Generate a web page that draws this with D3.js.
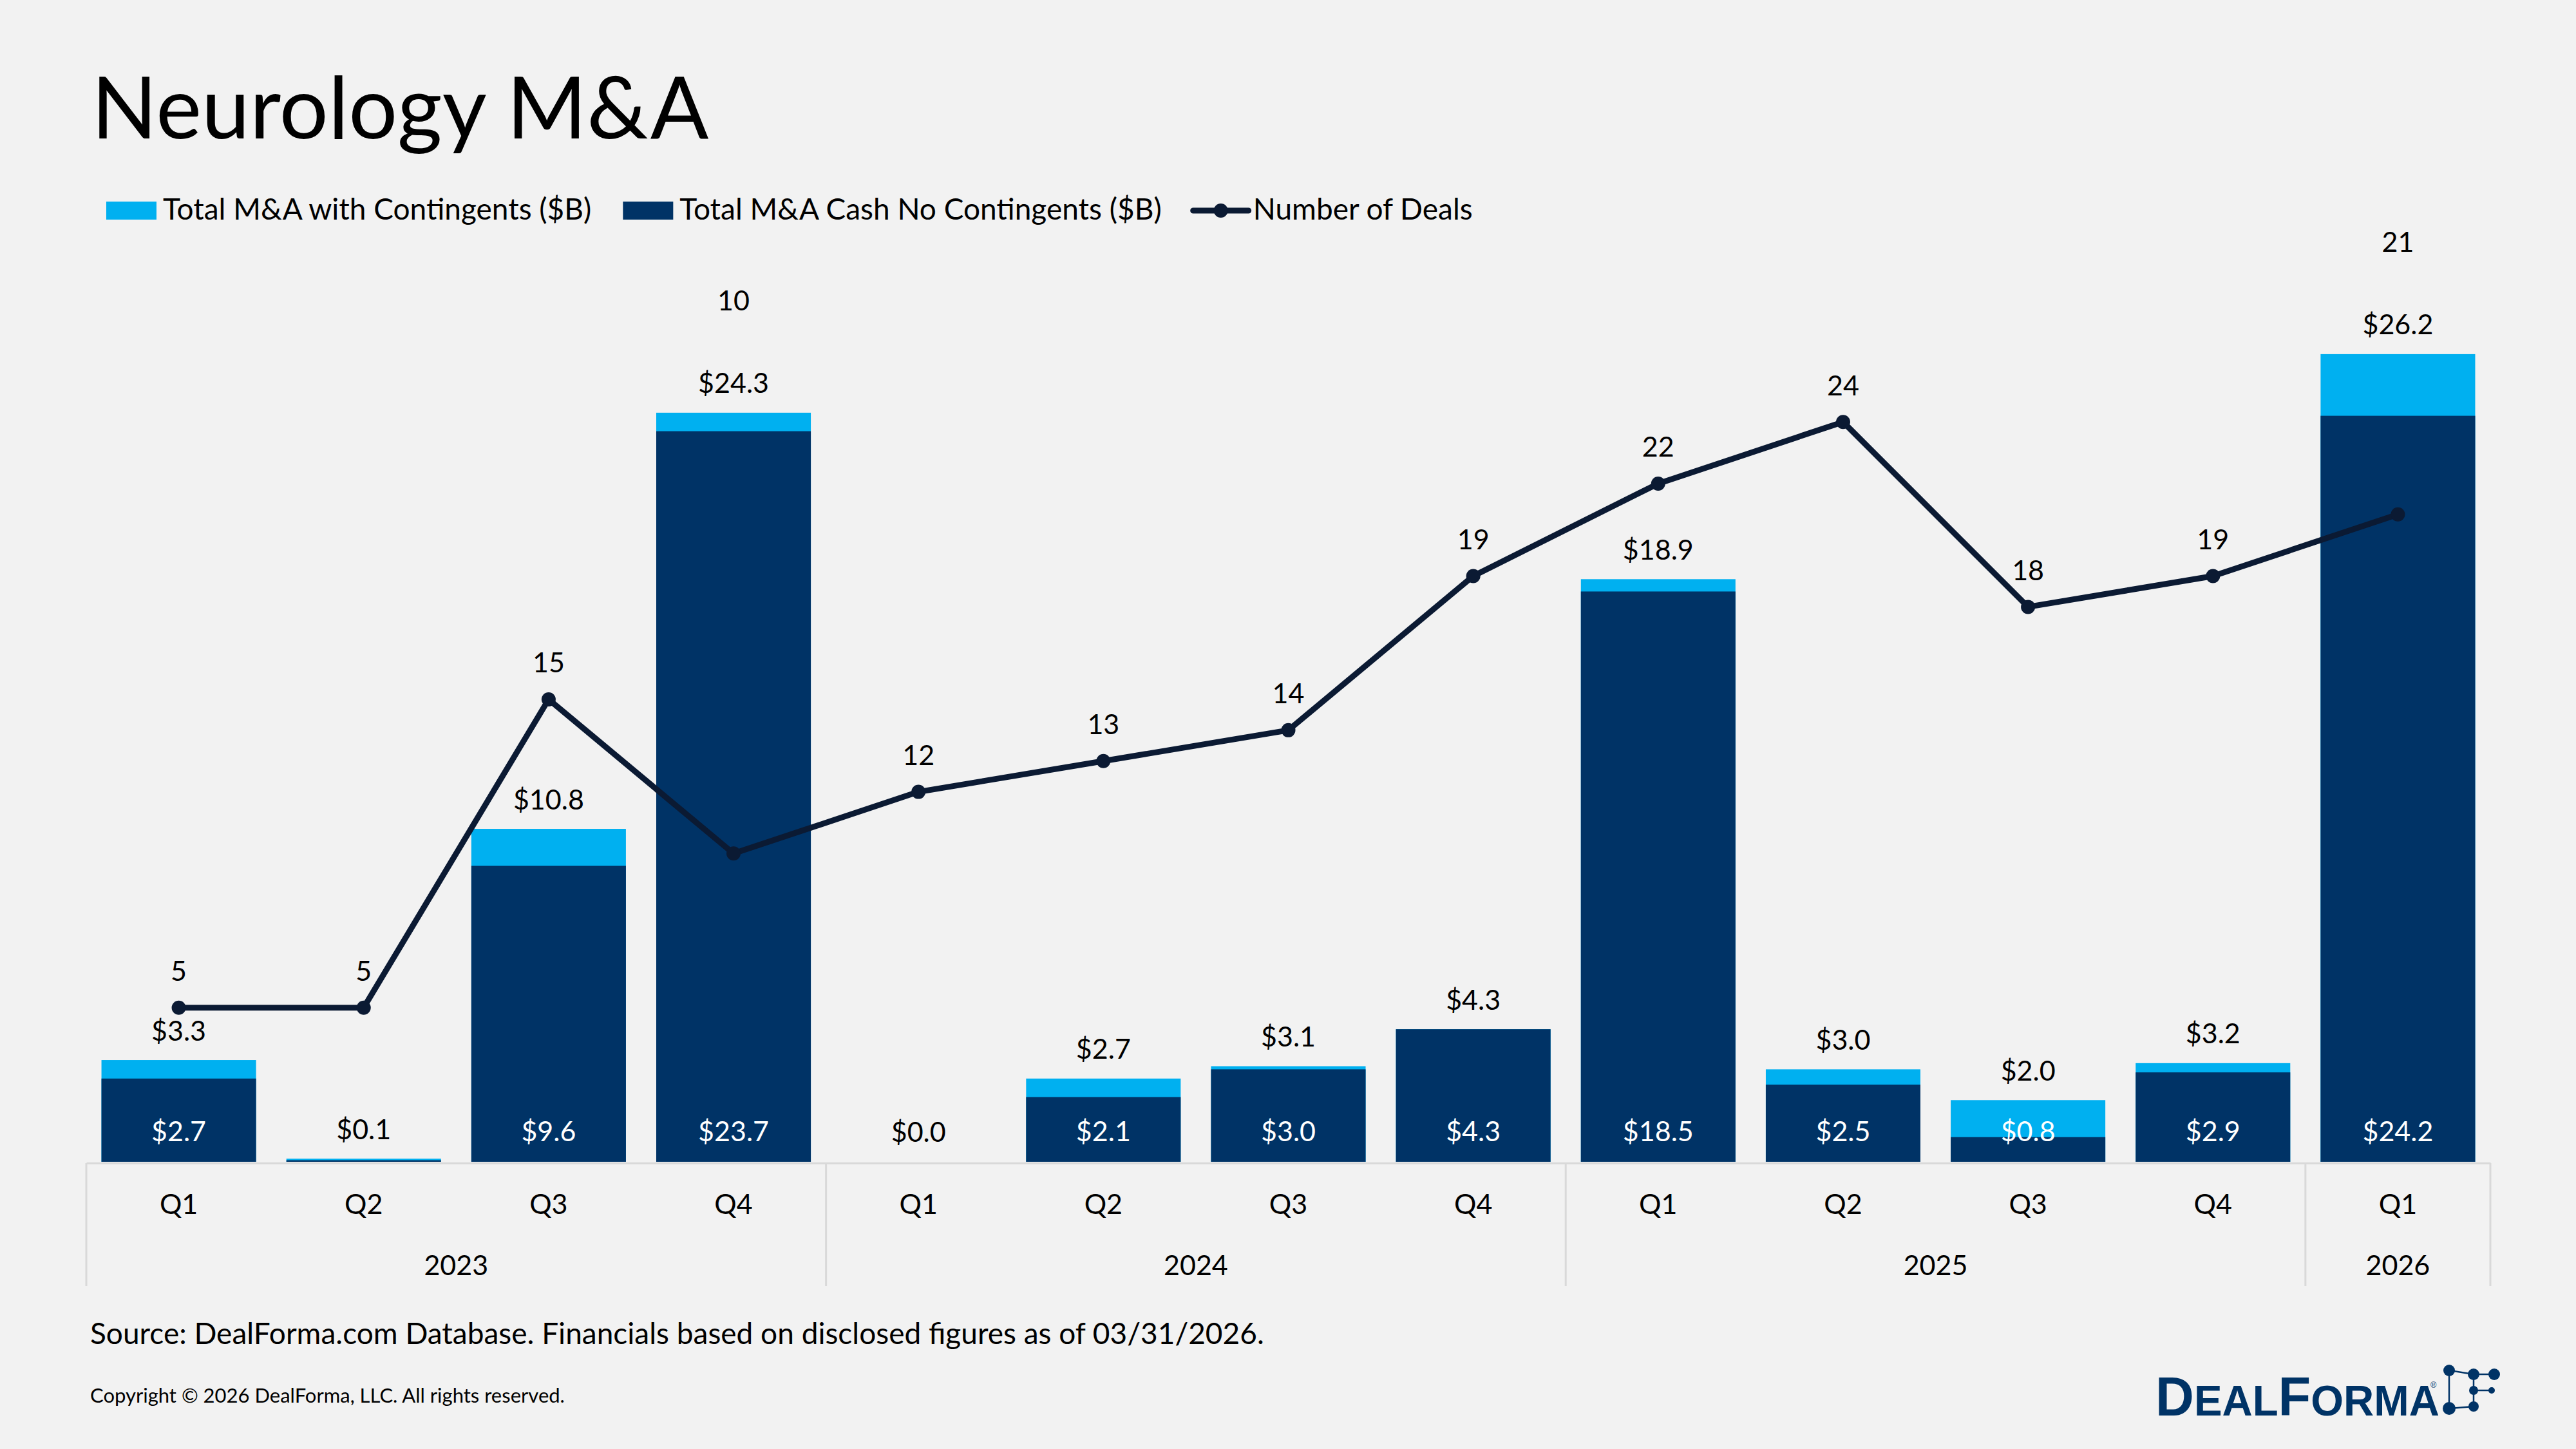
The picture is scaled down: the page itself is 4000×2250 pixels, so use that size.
<!DOCTYPE html>
<html>
<head>
<meta charset="utf-8">
<script src="https://cdn.jsdelivr.net/npm/d3@7"></script>
<style>
  html, body { margin: 0; padding: 0; background: #f2f2f2; }
  svg { display: block; font-family: Lato, "Open Sans", sans-serif; }
</style>
</head>
<body>
<svg id="chart" width="4000" height="2250"></svg>
<script>
// categories
const quarters = ['Q1', 'Q2', 'Q3', 'Q4', 'Q1', 'Q2', 'Q3', 'Q4', 'Q1', 'Q2', 'Q3', 'Q4', 'Q1'];
const quarterYear = ['2023', '2023', '2023', '2023', '2024', '2024', '2024', '2024', '2025', '2025', '2025', '2025', '2026'];
const years = ['2023', '2024', '2025', '2026'];

// series ($B and counts)
const totalWithContingents = [3.3, 0.1, 10.8, 24.3, 0.0, 2.7, 3.1, 4.3, 18.9, 3.0, 2.0, 3.2, 26.2];
const cashNoContingents    = [2.7, 0.05, 9.6, 23.7, 0.0, 2.1, 3.0, 4.3, 18.5, 2.5, 0.8, 2.9, 24.2];
const numberOfDeals        = [5, 5, 15, 10, 12, 13, 14, 19, 22, 24, 18, 19, 21];

const seriesNames = ['Total M&A with Contingents ($B)', 'Total M&A Cash No Contingents ($B)', 'Number of Deals'];

const C_LIGHT = '#00b0f0';
const C_DARK  = '#003366';
const C_LINE  = '#0b1a33';
const C_AXIS  = '#d9d9d9';

const svg = d3.select('#chart');
svg.append('rect').attr('width', 4000).attr('height', 2250).attr('fill', '#f2f2f2');

// title
svg.append('text')
    .attr('x', 142).attr('y', 215)
    .attr('font-size', 134)
    .attr('fill', '#000')
    .text('Neurology M&A');

// scales
const idx = d3.range(quarters.length);
const x = d3.scaleBand().domain(idx).range([134, 3867]).paddingInner(0.164).paddingOuter(0.082);
const yVal   = d3.scaleLinear().domain([0, 30]).range([1804, 368]);
const yDeals = d3.scaleLinear().domain([0, 30]).range([1804, 368]);
const fmt = d => '$' + d3.format('.1f')(d);

const g = svg.append('g');

// bars: total behind, cash in front
g.selectAll('.tot')
    .data(idx)
    .join('rect')
    .attr('class', 'tot')
    .attr('x', i => x(i))
    .attr('width', x.bandwidth())
    .attr('y', i => yVal(totalWithContingents[i]))
    .attr('height', i => yVal(0) - yVal(totalWithContingents[i]))
    .attr('fill', C_LIGHT);

g.selectAll('.cash')
    .data(idx)
    .join('rect')
    .attr('class', 'cash')
    .attr('x', i => x(i))
    .attr('width', x.bandwidth())
    .attr('y', i => yVal(cashNoContingents[i]))
    .attr('height', i => yVal(0) - yVal(cashNoContingents[i]))
    .attr('fill', C_DARK);

// category axis
const axis = g.append('g')
    .attr('transform', 'translate(0,1806)')
    .call(d3.axisBottom(x).tickSize(0).tickSizeOuter(0).tickFormat(i => quarters[i]));
axis.select('.domain').attr('stroke', C_AXIS).attr('stroke-width', 3);
axis.selectAll('text')
    .attr('y', 64).attr('dy', '0.36em')
    .attr('font-size', 43)
    .attr('font-family', 'Lato, sans-serif')
    .attr('fill', '#000');

// year groups
const step = x.step();
const x0 = x.range()[0];
const groupStart = years.map(yr => quarterYear.indexOf(yr));
const groupEnd = years.map(yr => quarterYear.lastIndexOf(yr) + 1);
const bounds = [...new Set([...groupStart, ...groupEnd])];

g.selectAll('.sep')
    .data(bounds)
    .join('line')
    .attr('class', 'sep')
    .attr('x1', b => x0 + b * step).attr('x2', b => x0 + b * step)
    .attr('y1', 1806).attr('y2', 1997)
    .attr('stroke', C_AXIS).attr('stroke-width', 3);

g.selectAll('.yr')
    .data(years)
    .join('text')
    .attr('class', 'yr')
    .attr('x', (yr, k) => x0 + (groupStart[k] + groupEnd[k]) / 2 * step)
    .attr('y', 1965).attr('dy', '0.36em')
    .attr('text-anchor', 'middle')
    .attr('font-size', 43)
    .text(yr => yr);

// deals line
const line = d3.line()
    .x(i => x(i) + x.bandwidth() / 2)
    .y(i => yDeals(numberOfDeals[i]));

g.append('path')
    .datum(idx)
    .attr('d', line)
    .attr('fill', 'none')
    .attr('stroke', C_LINE)
    .attr('stroke-width', 9)
    .attr('stroke-linejoin', 'round');

g.selectAll('.pt')
    .data(idx)
    .join('circle')
    .attr('class', 'pt')
    .attr('cx', i => x(i) + x.bandwidth() / 2)
    .attr('cy', i => yDeals(numberOfDeals[i]))
    .attr('r', 11)
    .attr('fill', C_LINE);

// labels
const cx = i => x(i) + x.bandwidth() / 2;
const totLabelY = i => yVal(totalWithContingents[i]) - 46;

g.selectAll('.lt')
    .data(idx)
    .join('text')
    .attr('class', 'lt')
    .attr('x', cx)
    .attr('y', totLabelY).attr('dy', '0.36em')
    .attr('text-anchor', 'middle')
    .attr('font-size', 43)
    .text(i => fmt(totalWithContingents[i]));

g.selectAll('.lc')
    .data(idx.filter(i => cashNoContingents[i] > 0.1))
    .join('text')
    .attr('class', 'lc')
    .attr('x', cx)
    .attr('y', yVal(0) - 47).attr('dy', '0.36em')
    .attr('text-anchor', 'middle')
    .attr('font-size', 43)
    .attr('fill', '#fff')
    .text(i => fmt(cashNoContingents[i]));

// deal labels; moved above the bar label when the point sits inside a bar
g.selectAll('.ld')
    .data(idx)
    .join('text')
    .attr('class', 'ld')
    .attr('x', cx)
    .attr('y', i => {
        const py = yDeals(numberOfDeals[i]);
        return py > yVal(totalWithContingents[i]) ? totLabelY(i) - 128 : py - 57;
    })
    .attr('dy', '0.36em')
    .attr('text-anchor', 'middle')
    .attr('font-size', 43)
    .text(i => numberOfDeals[i]);

// legend
const leg = svg.append('g').attr('font-size', 46);
let lx = 165;
[C_LIGHT, C_DARK].forEach((c, k) => {
    leg.append('rect').attr('x', lx).attr('y', 313).attr('width', 78).attr('height', 28).attr('fill', c);
    const t = leg.append('text').attr('x', lx + 88).attr('y', 341).text(seriesNames[k]);
    lx += 88 + t.node().getComputedTextLength() + 49;
});
leg.append('line').attr('x1', lx).attr('x2', lx + 86).attr('y1', 327).attr('y2', 327)
    .attr('stroke', C_LINE).attr('stroke-width', 9).attr('stroke-linecap', 'round');
leg.append('circle').attr('cx', lx + 43).attr('cy', 327).attr('r', 11).attr('fill', C_LINE);
leg.append('text').attr('x', lx + 93).attr('y', 341).text(seriesNames[2]);

// footer
svg.append('text').attr('x', 140).attr('y', 2087).attr('font-size', 46)
    .text('Source: DealForma.com Database. Financials based on disclosed figures as of 03/31/2026.');
svg.append('text').attr('x', 140).attr('y', 2178).attr('font-size', 31)
    .text('Copyright © 2026 DealForma, LLC. All rights reserved.');

// logo
const logo = svg.append('g').attr('fill', C_DARK);
const lt = logo.append('text')
    .attr('font-family', '"Liberation Sans", Arial, sans-serif')
    .attr('font-weight', 'bold');
[['D', 85], ['EAL', 67], ['F', 85], ['ORMA', 67]].forEach(([s, fs]) => lt.append('tspan').attr('font-size', fs).text(s));
const sx = 441 / lt.node().getComputedTextLength();
lt.attr('transform', `translate(3347,2198) scale(${sx},1)`);
lt.append('tspan').attr('font-size', 13).attr('font-weight', 'normal')
    .attr('dx', -14 / sx).attr('dy', -43).text('®');

const nodes = [[3803, 2128, 9], [3841, 2134, 9], [3873, 2134, 9], [3841, 2159, 7], [3869, 2159, 5], [3803, 2187, 10], [3841, 2184, 8]];
const links = [[0, 1], [1, 2], [0, 5], [1, 3], [3, 6], [3, 4], [5, 6]];
logo.selectAll('.lk').data(links).join('line')
    .attr('x1', d => nodes[d[0]][0]).attr('y1', d => nodes[d[0]][1])
    .attr('x2', d => nodes[d[1]][0]).attr('y2', d => nodes[d[1]][1])
    .attr('stroke', C_DARK).attr('stroke-width', 2.5);
logo.selectAll('.nd').data(nodes).join('circle')
    .attr('cx', d => d[0]).attr('cy', d => d[1]).attr('r', d => d[2]);
</script>
</body>
</html>
